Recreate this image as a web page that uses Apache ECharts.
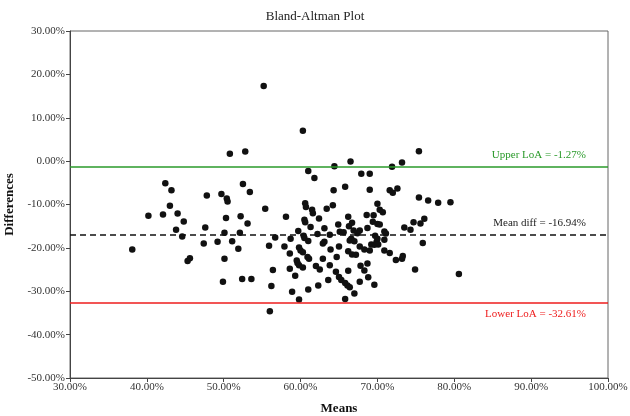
<!DOCTYPE html>
<html>
<head>
<meta charset="utf-8">
<script src="https://cdn.jsdelivr.net/npm/echarts@6/dist/echarts.min.js"></script>
<style>
  html, body { margin: 0; padding: 0; background: #fff; }
  #chart { width: 630px; height: 416px; }
</style>
</head>
<body>
<div id="chart"></div>
<script>
// 均值 (x, %) 与差值 (y, %)
var points = [
  [42.4,-5.1],[43.2,-6.7],[40.2,-12.6],[42.1,-12.3],[43.0,-10.3],[44.0,-12.1],[44.8,-13.9],[43.8,-15.8],
  [44.6,-17.4],[38.1,-20.4],[45.3,-23.0],[45.6,-22.4],[47.8,-7.9],[47.6,-15.3],[47.4,-19.0],[49.2,-18.6],
  [49.7,-7.6],[50.4,-8.6],[50.5,-9.3],[50.3,-13.1],[50.1,-16.5],[50.1,-22.5],[49.9,-27.8],[51.1,-18.5],
  [51.9,-20.2],[52.1,-16.5],[52.2,-12.7],[53.1,-14.4],[52.5,-5.3],[53.4,-7.1],[52.4,-27.2],[53.6,-27.2],
  [50.8,1.7],[52.8,2.2],
  [55.2,17.3],[60.3,7.0],[64.4,-1.2],[66.5,-0.1],
  [61.0,-2.3],[61.8,-3.9],[67.9,-2.9],[69.0,-2.9],[65.8,-5.9],[64.3,-6.7],[69.0,-6.6],[55.4,-11.0],
  [58.1,-12.8],[60.6,-9.7],[60.7,-10.6],[61.5,-11.2],[61.6,-12.0],[60.5,-13.5],[60.6,-14.1],[62.4,-13.2],
  [63.4,-11.0],[64.2,-10.2],[61.3,-15.2],[59.7,-16.1],[60.4,-17.2],[60.5,-17.7],[61.0,-18.4],[58.7,-17.9],
  [56.7,-17.6],[55.9,-19.5],[57.9,-19.7],[62.2,-16.8],[63.1,-15.5],[63.8,-17.0],[63.1,-18.6],[62.9,-19.0],
  [59.8,-19.9],[60.0,-20.6],[60.3,-21.0],[58.6,-21.3],[60.9,-22.1],[61.1,-22.5],[59.5,-22.9],[59.6,-23.5],
  [59.8,-24.0],[60.3,-24.5],[58.6,-24.8],[59.3,-26.4],[56.4,-25.1],[56.2,-28.8],[58.9,-30.1],[59.8,-31.9],
  [56.0,-34.6],[61.0,-29.6],[62.3,-28.7],[63.6,-27.4],[62.9,-22.5],[63.9,-20.4],[64.7,-22.1],[63.8,-24.0],
  [62.0,-24.2],[62.5,-25.0],[65.0,-19.7],[66.2,-20.8],[66.7,-21.5],[66.2,-25.3],[64.6,-25.5],[65.0,-26.7],
  [65.3,-27.4],[65.8,-28.1],[66.1,-28.7],[66.4,-29.1],[67.0,-30.5],[65.8,-31.8],[67.7,-27.8],[67.8,-24.1],
  [68.3,-25.2],[68.8,-26.8],[69.6,-28.5],[68.7,-23.6],[67.2,-21.6],[67.7,-19.7],[68.3,-20.4],[69.0,-20.6],
  [69.2,-19.2],[69.6,-19.3],[69.9,-18.6],[64.9,-14.6],[65.1,-16.3],[65.6,-16.4],[66.2,-12.8],[66.3,-15.0],
  [66.7,-14.2],[66.9,-16.0],[66.4,-18.3],[66.6,-17.9],[67.4,-16.6],[67.7,-16.0],[68.6,-12.4],[69.5,-12.5],
  [68.7,-15.4],[69.4,-14.0],[70.0,-9.8],[70.0,-14.5],[67.0,-18.5],
  [75.4,2.3],[71.9,-1.3],[73.2,-0.3],[71.6,-6.7],[72.0,-7.3],[72.6,-6.3],[75.4,-8.4],[76.6,-9.1],
  [77.9,-9.6],[79.5,-9.5],[70.3,-11.2],[70.7,-11.8],[70.3,-14.6],[73.5,-15.3],[74.3,-15.8],[74.7,-14.1],
  [75.6,-14.4],[76.1,-13.3],[70.9,-16.2],[71.1,-16.7],[69.7,-17.2],[70.0,-17.9],[70.9,-18.1],[70.1,-19.2],
  [70.9,-20.6],[71.6,-21.2],[75.9,-18.9],[72.4,-22.8],[73.2,-22.5],[73.3,-21.9],[74.9,-25.0],[80.6,-26.0]
];

// 一致性界限
var meanDiff = -16.94
var upperLoA = -1.27
var lowerLoA = -32.61

var serif = '"Liberation Serif", "DejaVu Serif", serif'

function pct(v) {
  return v.toFixed(2) + '%'
}

var chart = echarts.init(document.getElementById('chart'), null, { renderer: 'canvas' })
var option = {
  animation: false,
  title: {
    text: 'Bland-Altman Plot',
    left: 'center',
    top: 5,
    textStyle: { fontFamily: serif, fontSize: 13, fontWeight: 'normal', color: '#222' }
  },
  grid: {
    left: 70, right: 22, top: 31, bottom: 38,
    outerBoundsMode: 'none',
    containLabel: false,
    show: true, borderColor: '#666', borderWidth: 1
  },
  xAxis: {
    type: 'value',
    min: 30, max: 100, interval: 10,
    name: 'Means',
    nameLocation: 'middle',
    nameGap: 24,
    nameTextStyle: { fontFamily: serif, fontSize: 13, fontWeight: 'bold', color: '#111' },
    axisLine: { onZero: false, lineStyle: { color: '#444' } },
    axisTick: { length: 4, lineStyle: { color: '#444' } },
    axisLabel: { formatter: pct, fontFamily: serif, fontSize: 11, color: '#333', margin: 4 },
    splitLine: { show: false }
  },
  yAxis: {
    type: 'value',
    min: -50, max: 30, interval: 10,
    name: 'Differences',
    nameLocation: 'middle',
    nameGap: 52,
    nameTextStyle: { fontFamily: serif, fontSize: 13, fontWeight: 'bold', color: '#111' },
    axisLine: { show: true, onZero: false, lineStyle: { color: '#444' } },
    axisTick: { show: true, length: 4, lineStyle: { color: '#444' } },
    axisLabel: { formatter: pct, fontFamily: serif, fontSize: 11, color: '#333', margin: 5 },
    splitLine: { show: false }
  },
  series: [{
    type: 'scatter',
    data: points,
    symbolSize: 6.5,
    itemStyle: { color: '#111', opacity: 1 },
    markLine: {
      silent: true,
      symbol: 'none',
      animation: false,
      label: {
        position: 'insideEndTop',
        distance: [22, 6],
        fontFamily: serif,
        fontSize: 11
      },
      data: [
        {
          yAxis: upperLoA,
          lineStyle: { color: '#2a9a2a', width: 1.5, type: 'solid' },
          label: { formatter: 'Upper LoA = ' + pct(upperLoA), color: '#2a9a2a' }
        },
        {
          yAxis: meanDiff,
          lineStyle: { color: '#111', width: 1.5, type: [6, 4] },
          label: { formatter: 'Mean diff = ' + pct(meanDiff), color: '#222' }
        },
        {
          yAxis: lowerLoA,
          lineStyle: { color: '#ee1c1c', width: 1.5, type: 'solid' },
          label: { formatter: 'Lower LoA = ' + pct(lowerLoA), color: '#ee1c1c', position: 'insideEndBottom' }
        }
      ]
    }
  }]
}
chart.setOption(option)
</script>
</body>
</html>
